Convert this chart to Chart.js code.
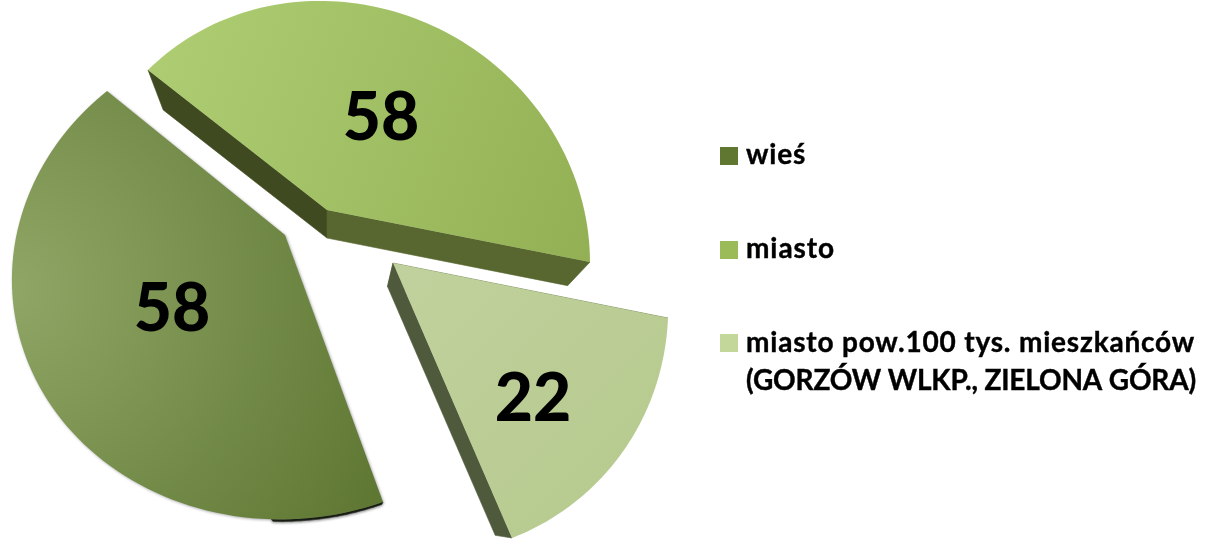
<!DOCTYPE html>
<html lang="pl"><head><meta charset="utf-8">
<style>html,body{margin:0;padding:0;background:#fff}canvas{display:block}</style>
<script src="https://cdn.jsdelivr.net/npm/chart.js@4/dist/chart.umd.min.js"></script>
</head><body>
<canvas id="c" width="1207" height="539"></canvas>
<script>
const categories = ["wieś", "miasto", "miasto pow.100 tys. mieszkańców"];
const values = [58, 58, 22];
const legendLines = [["wieś"], ["miasto"], ["miasto pow.100 tys. mieszkańców", "(GORZÓW WLKP., ZIELONA GÓRA)"]];
const legendWidths = [[60], [89], [449, 450]];
const swatchColors = ["#5f7731", "#9bbb59", "#c4d79b"];
// perspective placement of each slice: apex, arc start, arc middle, arc end
const sliceFrames = [
  [[285,235],[383,502],[36,380],[107,91]],
  [[327,210],[148,70],[414,18],[590,262]],
  [[393,263],[668,318],[624,450],[512,538]]
];
const topGradients = [
  {radial:[10,290,430],from:"#90a666",to:"#5d7631"},
  {line:[150,70,590,240],from:"#aecd72",to:"#93b054"},
  {line:[400,270,640,500],from:"#c1d19d",to:"#b6ca8e"}
];
const walls = [
  {v:[330,600],s:.975,start:"#2b3318",end:"#4c5a28",arc:"#20261a",arcShare:.13},
  {v:[327,540],s:.915,start:"#3f4a20",end:"#58672f",arc:"#4c5a28",arcShare:0},
  {v:[335,510],s:.905,start:"#6f7f50",end:"#4f5a3d",arc:"#4f5a3d",arcShare:0}
];
const labelSpots = [[172,310],[381,119],[533,400]];
const legendRows = [[147,164],[241,258],[334,352]];

function solveH(src,dst){
  const A=[];
  for(let i=0;i<4;i++){
    const [x,y]=src[i],[u,v]=dst[i];
    A.push([x,y,1,0,0,0,-u*x,-u*y,u]);
    A.push([0,0,0,x,y,1,-v*x,-v*y,v]);
  }
  for(let i=0;i<8;i++){
    let p=i;for(let r=i+1;r<8;r++)if(Math.abs(A[r][i])>Math.abs(A[p][i]))p=r;
    [A[i],A[p]]=[A[p],A[i]];
    for(let r=0;r<8;r++){if(r===i)continue;const f=A[r][i]/A[i][i];for(let c=i;c<9;c++)A[r][c]-=f*A[i][c];}
  }
  const h=A.map((r,i)=>r[8]/r[i]);
  return ([x,y])=>{const w=h[6]*x+h[7]*y+1;return[(h[0]*x+h[1]*y+h[2])/w,(h[3]*x+h[4]*y+h[5])/w];};
}
function quad(ctx,a,b,c,d,col){
  ctx.fillStyle=col;ctx.strokeStyle=col;ctx.lineWidth=.6;
  ctx.beginPath();ctx.moveTo(...a);ctx.lineTo(...b);ctx.lineTo(...c);ctx.lineTo(...d);ctx.closePath();ctx.fill();ctx.stroke();
}
const perspectivePie = {
  id:"perspectivePie",
  beforeDatasetDraw(chart,args){
    const ctx=chart.ctx, arcs=chart.getDatasetMeta(args.index).data;
    const outlines=arcs.map((arc,i)=>{
      const {x,y,startAngle:a0,endAngle:a1,outerRadius:r}=arc.getProps(["x","y","startAngle","endAngle","outerRadius"],true);
      const P=t=>[x+r*Math.cos(t),y+r*Math.sin(t)];
      const H=solveH([[x,y],P(a0),P((a0+a1)/2),P(a1)],sliceFrames[i]);
      const pts=[];for(let k=0;k<=90;k++)pts.push(H(P(a0+(a1-a0)*k/90)));
      return {apex:H([x,y]),pts};
    });
    outlines.forEach((o,i)=>{
      const w=walls[i], dn=p=>[w.v[0]+w.s*(p[0]-w.v[0]),w.v[1]+w.s*(p[1]-w.v[1])];
      ctx.save();
      ctx.shadowColor="rgba(0,0,0,.45)";ctx.shadowBlur=3;ctx.shadowOffsetY=1;
      for(let k=0;k<(o.pts.length-1)*w.arcShare;k++)quad(ctx,o.pts[k],o.pts[k+1],dn(o.pts[k+1]),dn(o.pts[k]),w.arc);
      ctx.restore();
      if(i>0){
        quad(ctx,o.apex,o.pts[0],dn(o.pts[0]),dn(o.apex),w.start);
        const e=o.pts[o.pts.length-1];
        quad(ctx,o.apex,e,dn(e),dn(o.apex),w.end);
      }
      const g=topGradients[i];
      const lg=g.radial?ctx.createRadialGradient(g.radial[0],g.radial[1],0,g.radial[0],g.radial[1],g.radial[2])
                       :ctx.createLinearGradient(...g.line);
      lg.addColorStop(0,g.from);lg.addColorStop(1,g.to);
      ctx.save();
      if(i===0){ctx.shadowColor="rgba(0,0,0,.35)";ctx.shadowBlur=3;ctx.shadowOffsetX=1;ctx.shadowOffsetY=1;}
      ctx.fillStyle=lg;
      ctx.beginPath();ctx.moveTo(...o.apex);o.pts.forEach(p=>ctx.lineTo(...p));ctx.closePath();ctx.fill();
      ctx.restore();
    });
    return false;
  },
  afterDatasetsDraw(chart){
    const ctx=chart.ctx;
    ctx.save();
    ctx.fillStyle="#000";ctx.textAlign="center";ctx.textBaseline="middle";
    ctx.font='900 66px Lato';
    values.forEach((v,i)=>ctx.fillText(String(v),labelSpots[i][0],labelSpots[i][1]));
    ctx.textAlign="left";ctx.textBaseline="alphabetic";ctx.font='bold 28px Lato';
    ctx.strokeStyle="#000";ctx.lineWidth=.4;
    legendLines.forEach((lines,i)=>{
      ctx.fillStyle=swatchColors[i];ctx.fillRect(720,legendRows[i][0],18,18);
      ctx.fillStyle="#000";
      lines.forEach((t,k)=>{
        ctx.letterSpacing="0px";
        const extra=(legendWidths[i][k]-ctx.measureText(t).width)/t.length;
        ctx.letterSpacing=extra.toFixed(3)+"px";
        ctx.fillText(t,746,legendRows[i][1]+k*38);
        ctx.strokeText(t,746,legendRows[i][1]+k*38);
      });
    });
    ctx.restore();
  }
};
new Chart(document.getElementById("c"),{
  type:"pie",
  data:{labels:categories,datasets:[{data:values,backgroundColor:swatchColors,borderWidth:0}]},
  options:{responsive:false,animation:false,rotation:160,
    plugins:{legend:{display:false},tooltip:{enabled:false}}},
  plugins:[perspectivePie]
});
</script>
</body></html>
